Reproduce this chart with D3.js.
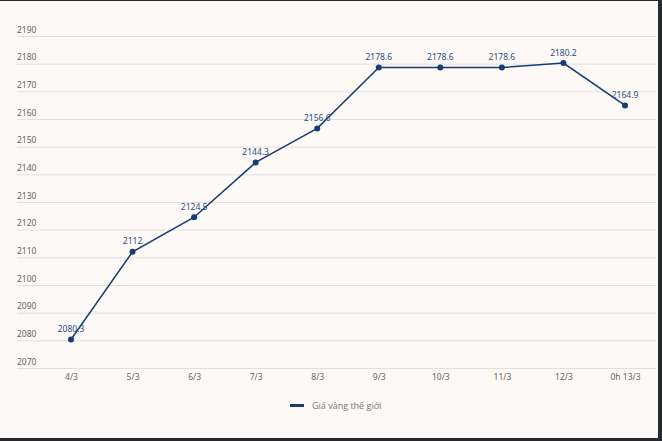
<!DOCTYPE html>
<html><head><meta charset="utf-8">
<script src="https://cdn.jsdelivr.net/npm/d3@7"></script>
<style>
html,body{margin:0;padding:0;background:#1f2328;}
svg{display:block;}
</style></head>
<body>
<svg id="chart" width="662" height="441"></svg>
<script>
const categories = ["4/3","5/3","6/3","7/3","8/3","9/3","10/3","11/3","12/3","0h 13/3"];
const values = [2080.3, 2112, 2124.5, 2144.3, 2156.6, 2178.6, 2178.6, 2178.6, 2180.2, 2164.9];
const valueLabels = ["2080.3","2112","2124.5","2144.3","2156.6","2178.6","2178.6","2178.6","2180.2","2164.9"];
const yTicks = [2070,2080,2090,2100,2110,2120,2130,2140,2150,2160,2170,2180,2190];
const seriesName = "Giá vàng thế giới";

const svg = d3.select("#chart");
// panel background with dark frame
svg.append("rect").attr("x",0).attr("y",0).attr("width",662).attr("height",441).attr("fill","#26292e");
svg.append("rect").attr("x",0).attr("y",1).attr("width",658).attr("height",437).attr("fill","#fdf9f6");

const x = d3.scalePoint().domain(categories).range([71, 625]);
const y = d3.scaleLinear().domain([2070, 2190]).range([368, 36]);

const tickFont = "'Noto Sans', 'Open Sans', sans-serif";
const navy = "#173c74";

// gridlines
svg.append("g").selectAll("line").data(yTicks).join("line")
  .attr("x1",17).attr("x2",656)
  .attr("y1",d=>y(d)+0.5).attr("y2",d=>y(d)+0.5)
  .attr("stroke","#e2dfdc").attr("stroke-width",1);

// y labels
svg.append("g").selectAll("text").data(yTicks).join("text")
  .attr("x",17).attr("y",d=>y(d)-3.5)
  .attr("font-family",tickFont).attr("font-size",8.5).attr("fill","#666")
  .text(d=>d);

// x labels via axis
const xAxis = svg.append("g").attr("transform","translate(0,368)")
  .call(d3.axisBottom(x).tickSize(0).tickPadding(6));
xAxis.select(".domain").remove();
xAxis.selectAll("text").attr("font-family",tickFont).attr("font-size",8.5).attr("fill","#666");

// line
const line = d3.line().x((d,i)=>x(categories[i])).y(d=>y(d));
svg.append("path").datum(values).attr("d",line)
  .attr("fill","none").attr("stroke",navy).attr("stroke-width",1.5);

// points
svg.append("g").selectAll("circle").data(values).join("circle")
  .attr("cx",(d,i)=>x(categories[i])).attr("cy",d=>y(d)).attr("r",3)
  .attr("fill",navy);

// data labels
svg.append("g").selectAll("text").data(values).join("text")
  .attr("x",(d,i)=>x(categories[i])).attr("y",d=>y(d)-7.5)
  .attr("text-anchor","middle")
  .attr("font-family",tickFont).attr("font-size",8.5).attr("fill","#2e4f80")
  .text((d,i)=>valueLabels[i]);

// legend
const lg = svg.append("g").attr("transform","translate(290,405)");
lg.append("line").attr("x1",0).attr("x2",14).attr("y1",0.5).attr("y2",0.5)
  .attr("stroke",navy).attr("stroke-width",3);
lg.append("text").attr("x",22).attr("y",3.5)
  .attr("font-family","'Open Sans', sans-serif").attr("font-size",9).attr("fill","#777")
  .text(seriesName);
</script>
</body></html>
